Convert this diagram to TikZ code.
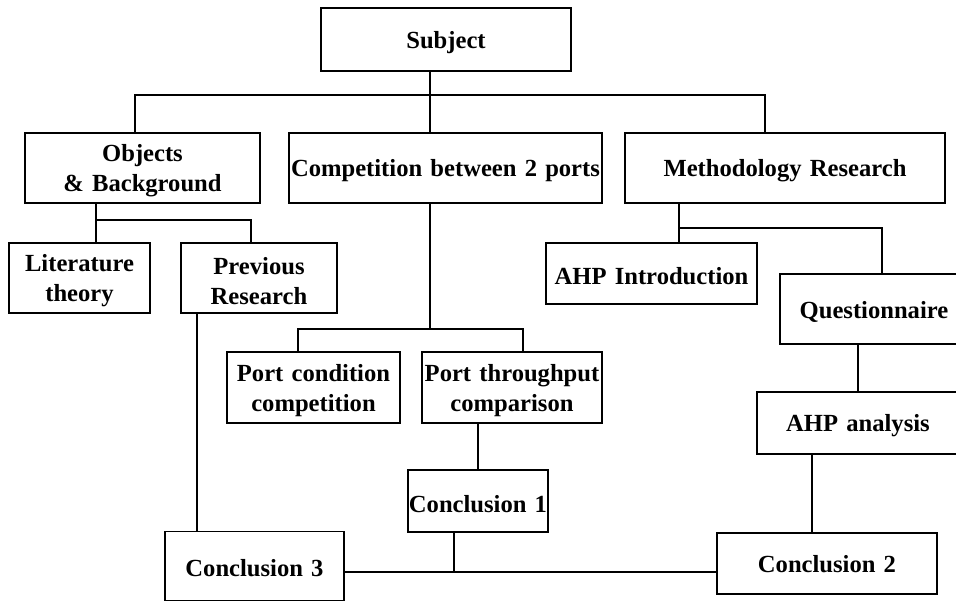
\documentclass[tikz,border=0pt]{standalone}
\usepackage{fontspec}
\setmainfont{Liberation Serif}
\begin{document}
\begin{tikzpicture}[x=0.025cm, y=-0.025cm,
  textdrop/.style={execute at begin node={\rule{0pt}{#1}}},
  textlift/.style={execute at end node={\rule[-#1]{0pt}{0pt}}},
  box/.style={draw, line width=1pt, inner sep=0pt, align=center,
    font=\fontsize{17.5}{21.5}\selectfont\bfseries, textdrop=16.3pt},
  link/.style={line width=1pt}]
  % canvas
  \fill[white] (0,0) rectangle (956,601);
  \useasboundingbox (0,0) rectangle (956,601);

  % boxes
  \node[box, text width=6.25cm,  minimum height=1.575cm] (subj)  at (446,39.5)   {Subject};
  \node[box, text width=5.875cm, minimum height=1.75cm]  (obj)   at (142.5,168)  {Objects\\\& Background};
  \node[box, text width=7.825cm, minimum height=1.75cm]  (comp)  at (445.5,168)  {Competition between 2 ports};
  \node[box, text width=8.0cm,   minimum height=1.75cm]  (meth)  at (785,168)    {Methodology Research};
  \node[box, text width=3.525cm, minimum height=1.75cm]  (lit)   at (79.5,278)   {Literature\\theory};
  \node[box, text width=3.9cm,   minimum height=1.75cm]  (prev)  at (259,278)    {Previous\\Research};
  \node[box, text width=5.275cm, minimum height=1.525cm] (ahpi)  at (651.5,273.5){AHP Introduction};
  \node[box, text width=4.7cm,   minimum height=1.75cm]  (quest) at (874,309)    {Questionnaire};
  \node[box, text width=4.325cm, minimum height=1.775cm] (pcond) at (313.5,387.5){Port condition\\competition};
  \node[box, text width=4.5cm,   minimum height=1.775cm] (pthr)  at (512,387.5)  {Port throughput\\comparison};
  \node[box, text width=5.05cm,  minimum height=1.55cm]  (ahpa)  at (858,423)    {AHP analysis};
  \node[box, text width=3.5cm,   minimum height=1.55cm]  (con1)  at (478,501)    {Conclusion 1};
  \node[box, text width=4.475cm, minimum height=1.725cm, textdrop=0pt, textlift=2pt] (con3) at (254.5,566) {Conclusion 3};
  \node[box, text width=5.5cm,   minimum height=1.525cm, textdrop=0pt, textlift=3pt] (con2) at (827,563.5) {Conclusion 2};

  % junction points of the trees
  \coordinate (bL) at (135,95);
  \coordinate (bM) at (430,95);
  \coordinate (bR) at (765,95);
  \coordinate (oL) at (96,220);
  \coordinate (oR) at (251,220);
  \coordinate (pX) at (197,0);
  \coordinate (cM) at (430,329);
  \coordinate (cL) at (298,329);
  \coordinate (cR) at (523,329);
  \coordinate (mL) at (679,228);
  \coordinate (mR) at (882,228);
  \coordinate (aX) at (812,0);
  \coordinate (bot) at (454,572);

  % subject level
  \draw[link] (subj.south -| bM) -- (comp.north -| bM);
  \draw[link] (obj.north -| bL) -- (bL) -- (bR) -- (meth.north -| bR);

  % objects & background
  \draw[link] (obj.south -| oL) -- (lit.north -| oL);
  \draw[link] (oL) -- (oR) -- (prev.north -| oR);
  \draw[link] (prev.south -| pX) -- (con3.north -| pX);

  % competition
  \draw[link] (comp.south -| cM) -- (cM);
  \draw[link] (pcond.north -| cL) -- (cL) -- (cR) -- (pthr.north -| cR);
  \draw[link] (pthr.south -| con1.north) -- (con1.north);

  % methodology
  \draw[link] (meth.south -| mL) -- (ahpi.north -| mL);
  \draw[link] (mL) -- (mR) -- (quest.north -| mR);
  \draw[link] (quest.south -| ahpa.north) -- (ahpa.north);
  \draw[link] (ahpa.south -| aX) -- (con2.north -| aX);

  % conclusions
  \draw[link] (con1.south -| bot) -- (bot);
  \draw[link] (con3.east |- bot) -- (con2.west |- bot);
\end{tikzpicture}
\end{document}
